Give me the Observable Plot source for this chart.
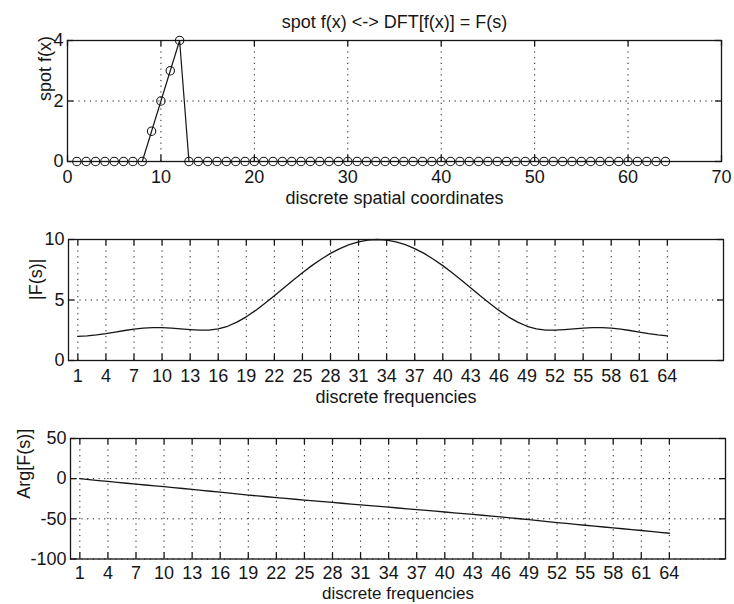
<!DOCTYPE html>
<html><head><meta charset="utf-8">
<script src="https://cdn.jsdelivr.net/npm/d3@7"></script>
<script src="https://cdn.jsdelivr.net/npm/@observablehq/plot@0.6"></script>
<style>
body{margin:0;background:#fff;}
#chart{position:relative;width:734px;height:604px;background:#fff;overflow:hidden;}
#chart svg{position:absolute;left:0;overflow:visible;}
</style></head><body><div id="chart"></div>
<script>
const title = "spot f(x) <-> DFT[f(x)] = F(s)";
const spatialLabel = "discrete spatial coordinates";
const freqLabel = "discrete frequencies";
const spotLabel = "spot f(x)";
const magLabel = "|F(s)|";
const argLabel = "Arg[F(s)]";

const spotX = [1,2,3,4,5,6,7,8,9,10,11,12,13,14,15,16,17,18,19,20,21,22,23,24,25,26,27,28,29,30,31,32,
  33,34,35,36,37,38,39,40,41,42,43,44,45,46,47,48,49,50,51,52,53,54,55,56,57,58,59,60,61,62,63,64];
const spotF = [0,0,0,0,0,0,0,0,1,2,3,4,0,0,0,0,0,0,0,0,0,0,0,0,0,0,0,0,0,0,0,0,
  0,0,0,0,0,0,0,0,0,0,0,0,0,0,0,0,0,0,0,0,0,0,0,0,0,0,0,0,0,0,0,0];
const freqS = spotX;
const magF = [2.00,2.03,2.11,2.22,2.35,2.48,2.59,2.67,2.72,2.72,2.68,2.62,2.56,2.51,2.51,2.61,
  2.83,3.17,3.61,4.14,4.73,5.35,6.00,6.64,7.25,7.84,8.37,8.85,9.25,9.57,9.81,9.95,
  10.00,9.95,9.81,9.57,9.25,8.85,8.37,7.84,7.25,6.64,6.00,5.35,4.73,4.14,3.61,3.17,
  2.83,2.61,2.51,2.51,2.56,2.62,2.68,2.72,2.72,2.67,2.59,2.48,2.35,2.22,2.11,2.03];
const argF = [0.00,-1.18,-2.34,-3.48,-4.60,-5.70,-6.79,-7.87,-8.95,-10.03,-11.12,-12.22,-13.35,-14.50,-15.68,-16.88,
  -18.06,-19.23,-20.36,-21.46,-22.53,-23.58,-24.62,-25.64,-26.65,-27.65,-28.64,-29.64,-30.62,-31.61,-32.59,-33.58,
  -34.56,-35.54,-36.52,-37.51,-38.49,-39.48,-40.47,-41.47,-42.47,-43.48,-44.50,-45.53,-46.58,-47.65,-48.75,-49.89,
  -51.05,-52.24,-53.43,-54.61,-55.76,-56.89,-58.00,-59.09,-60.17,-61.24,-62.32,-63.41,-64.51,-65.63,-66.78,-67.94];

const spatialTicks = [0,10,20,30,40,50,60,70];
const spotYTicks = [0,2,4];
const freqTicks = [1,4,7,10,13,16,19,22,25,28,31,34,37,40,43,46,49,52,55,58,61,64];
const magYTicks = [0,5,10];
const argYTicks = [-100,-50,0,50];

const ink = "#161616";
const W = 734;

function panel(cfg) {
  const innerW = W - cfg.ml - cfg.mr, innerH = cfg.height - cfg.mt - cfg.mb;
  const tl = 6;
  const svg = Plot.plot({
    width: W, height: cfg.height,
    marginLeft: cfg.ml, marginRight: cfg.mr, marginTop: cfg.mt, marginBottom: cfg.mb,
    style: {fontFamily: "'Liberation Sans', Arial, Helvetica, sans-serif", fontSize: "18px", color: ink, background: "transparent", overflow: "visible"},
    x: {domain: cfg.xDomain, axis: null},
    y: {domain: cfg.yDomain, axis: null},
    marks: [
      Plot.ruleX(cfg.xTicks, {x: d => d, stroke: ink, strokeWidth: 1, strokeDasharray: "1.2,4.5"}),
      Plot.ruleY(cfg.yTicks, {y: d => d, stroke: ink, strokeWidth: 1, strokeDasharray: "1.2,4.5"}),
      Plot.tickX(cfg.xTicks, {x: d => d, insetTop: innerH - tl, stroke: ink, strokeWidth: 1.3}),
      Plot.tickX(cfg.xTicks, {x: d => d, insetBottom: innerH - tl, stroke: ink, strokeWidth: 1.3}),
      Plot.tickY(cfg.yTicks, {y: d => d, insetRight: innerW - tl, stroke: ink, strokeWidth: 1.3}),
      Plot.tickY(cfg.yTicks, {y: d => d, insetLeft: innerW - tl, stroke: ink, strokeWidth: 1.3}),
      Plot.axisX({ticks: cfg.xTicks, tickSize: 0, tickPadding: cfg.tickPad, tickFormat: d => String(d), label: null}),
      Plot.axisY({ticks: cfg.yTicks, tickSize: 0, tickPadding: 4, tickFormat: d => String(d), label: null}),
      ...cfg.marks,
      Plot.frame({stroke: ink, strokeWidth: 1.3}),
      Plot.text([cfg.xLabel], {text: d => d, frameAnchor: "bottom", dy: cfg.xLabelDy, lineAnchor: "top", fontSize: cfg.xLabelSize}),
      Plot.text([cfg.yLabel], {text: d => d, frameAnchor: "left", dx: cfg.yLabelDx, rotate: -90, lineAnchor: "middle"}),
      ...(cfg.title ? [Plot.text([cfg.title], {text: d => d, frameAnchor: "top", dy: -13, lineAnchor: "bottom"})] : [])
    ]
  });
  svg.style.top = cfg.top + "px";
  document.getElementById("chart").appendChild(svg);
}

panel({
  top: 0, height: 200, ml: 67, mr: 13, mt: 40, mb: 39,
  xDomain: [0, 70], yDomain: [0, 4],
  xTicks: spatialTicks, yTicks: spotYTicks, tickPad: 9,
  xLabel: spatialLabel, xLabelDy: 30, xLabelSize: 18, yLabel: spotLabel, yLabelDx: -22, title: title,
  marks: [
    Plot.line(spotF, {x: spotX, y: spotF, stroke: ink, strokeWidth: 1.2}),
    Plot.dot(spotF, {x: spotX, y: spotF, r: 4.2, stroke: ink, fill: "none", strokeWidth: 1.1})
  ]
});

panel({
  top: 200, height: 200, ml: 68, mr: 11, mt: 39, mb: 40,
  xDomain: [0, 70], yDomain: [0, 10],
  xTicks: freqTicks, yTicks: magYTicks, tickPad: 9,
  xLabel: freqLabel, xLabelDy: 30, xLabelSize: 18, yLabel: magLabel, yLabelDx: -32,
  marks: [
    Plot.line(magF, {x: freqS, y: magF, stroke: ink, strokeWidth: 1.3})
  ]
});

panel({
  top: 400, height: 204, ml: 70, mr: 9, mt: 38, mb: 45.5,
  xDomain: [0, 70], yDomain: [-100, 50],
  xTicks: freqTicks, yTicks: argYTicks, tickPad: 7,
  xLabel: freqLabel, xLabelDy: 27.5, xLabelSize: 17, yLabel: argLabel, yLabelDx: -46,
  marks: [
    Plot.line(argF, {x: freqS, y: argF, stroke: ink, strokeWidth: 1.3})
  ]
});
</script></body></html>
